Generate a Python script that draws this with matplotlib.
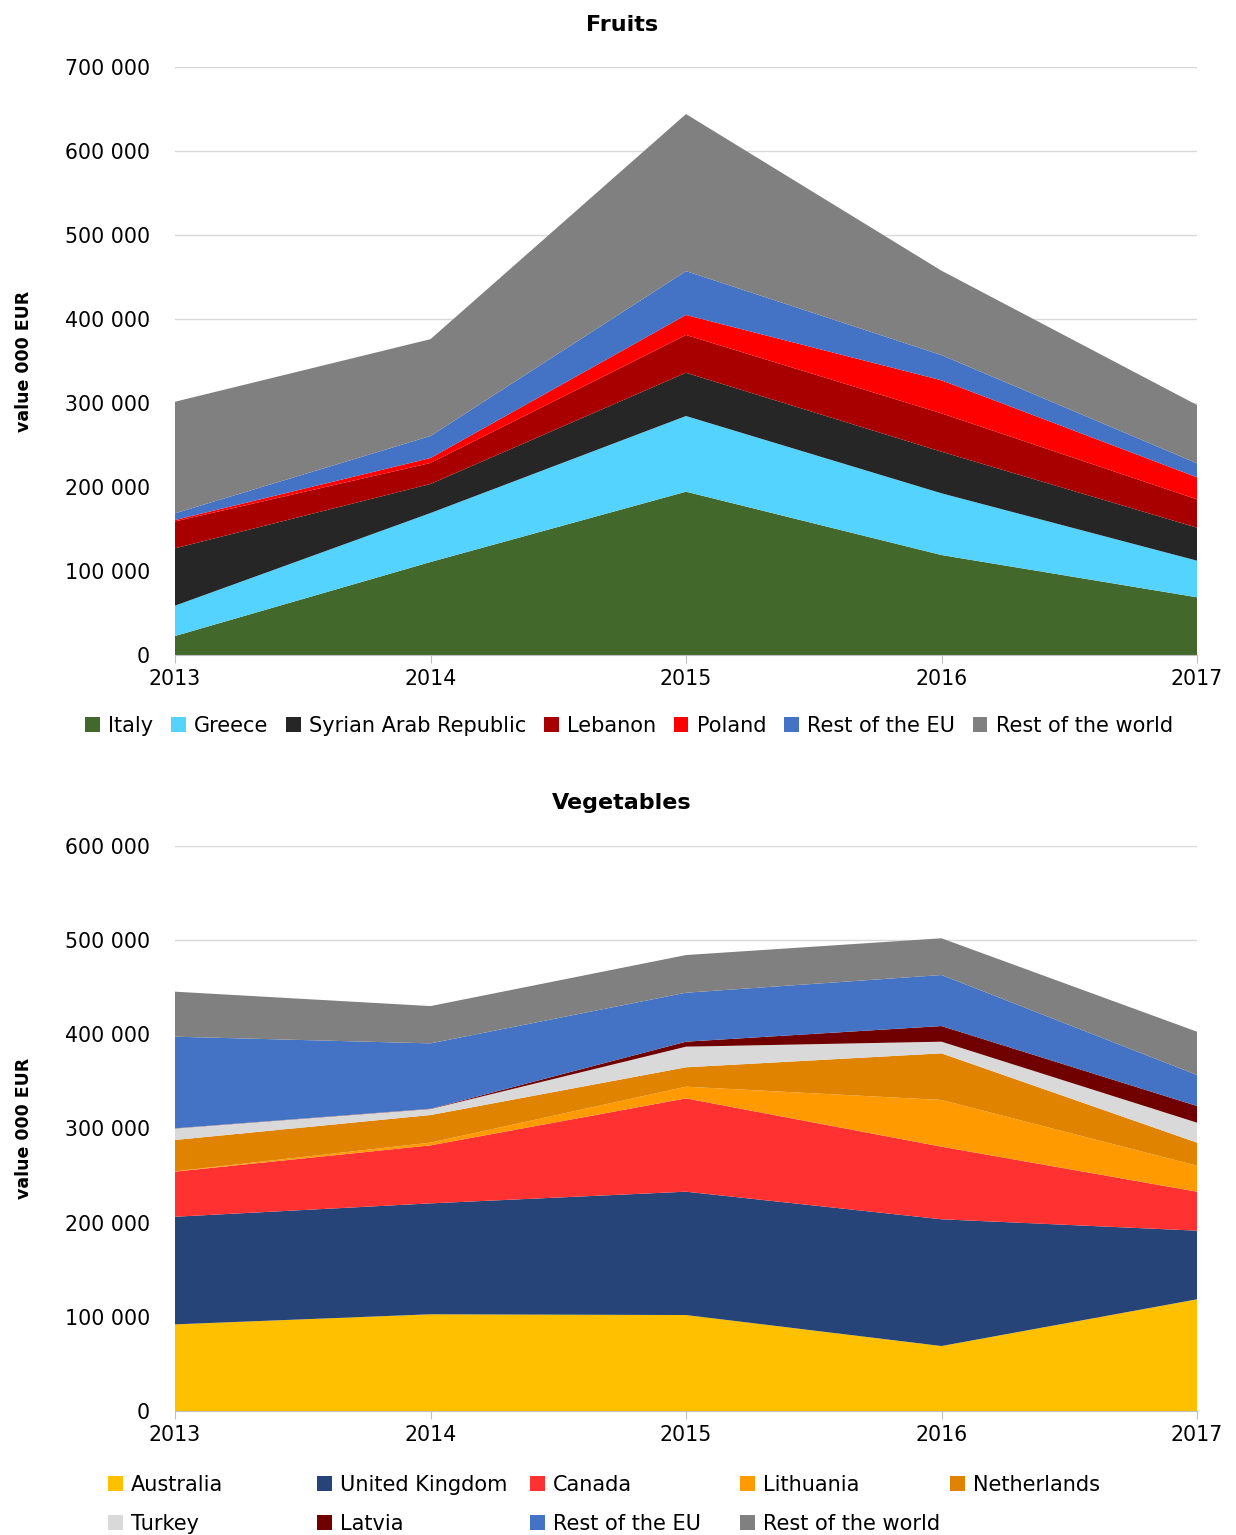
import matplotlib
matplotlib.use("Agg")
import matplotlib.pyplot as plt
from matplotlib.ticker import FuncFormatter

years = [2013, 2014, 2015, 2016, 2017]
year_labels = ["2013", "2014", "2015", "2016", "2017"]

# Fruits (value 000 EUR)
fruit_names = ["Italy", "Greece", "Syrian Arab Republic", "Lebanon", "Poland",
               "Rest of the EU", "Rest of the world"]
italy = [22600, 110700, 194400, 119000, 68700]
greece = [36100, 58300, 90100, 73500, 43600]
syria = [68300, 34600, 51500, 49500, 39300]
lebanon = [32000, 25000, 45000, 45700, 33700]
poland = [1700, 5900, 23800, 39300, 26200]
fruit_rest_eu = [8000, 26200, 52200, 30000, 16700]
fruit_rest_world = [132800, 115300, 187000, 100500, 69400]
fruit_colors = ["#43682B", "#55D3FF", "#262626", "#A80000", "#FF0000",
                "#4472C4", "#808080"]

# Vegetables (value 000 EUR)
veg_names = ["Australia", "United Kingdom", "Canada", "Lithuania", "Netherlands",
             "Turkey", "Latvia", "Rest of the EU", "Rest of the world"]
australia = [92000, 102700, 101900, 69000, 118600]
uk = [114300, 117800, 131000, 134600, 72900]
canada = [47900, 61600, 99100, 77100, 41400]
lithuania = [300, 2900, 12400, 49600, 27600]
netherlands = [33300, 29300, 20600, 49500, 24500]
turkey = [12200, 6400, 21900, 12400, 21200]
latvia = [200, 300, 5300, 16600, 17700]
veg_rest_eu = [97300, 69400, 52000, 54200, 32900]
veg_rest_world = [47800, 39600, 40000, 39000, 46000]
veg_colors = ["#FFC000", "#264478", "#FF3131", "#FF9B00", "#E08300",
              "#D9D9D9", "#700000", "#4472C4", "#808080"]

W, H = 1236, 1535
fig = plt.figure(figsize=(W / 100, H / 100), dpi=100)

fmt = FuncFormatter(lambda v, p: f"{int(v):,}".replace(",", " "))
FS = 14.8   # tick labels
LFS = 15    # legend


def style_axes(ax, ymax):
    ax.set_xlim(2013, 2017)
    ax.set_ylim(0, ymax)
    ax.set_yticks(range(0, ymax + 1, 100000))
    ax.yaxis.set_major_formatter(fmt)
    ax.set_xticks(years)
    ax.set_xticklabels(year_labels)
    ax.set_axisbelow(True)
    ax.grid(axis="y", color="#D9D9D9", linewidth=1)
    for s in ["top", "right", "left"]:
        ax.spines[s].set_visible(False)
    ax.spines["bottom"].set_color("#BFBFBF")
    ax.spines["bottom"].set_zorder(5)
    ax.tick_params(axis="y", length=0, pad=18, labelsize=FS)
    ax.tick_params(axis="x", length=6, color="#BFBFBF", pad=4, labelsize=FS)
    ax.set_ylabel("value 000 EUR", fontsize=12.5, fontweight="bold")
    ax.yaxis.set_label_coords(-0.139, 0.5)


# Fruits
ax1 = fig.add_axes([175 / W, 1 - 655 / H, 1022 / W, 588 / H])
polys1 = ax1.stackplot(years, italy, greece, syria, lebanon, poland,
                       fruit_rest_eu, fruit_rest_world,
                       colors=fruit_colors, labels=fruit_names)
style_axes(ax1, 700000)
fig.text(622 / W, 1 - 25 / H, "Fruits", ha="center", va="center",
         fontsize=16, fontweight="bold")
fig.legend(polys1, fruit_names, loc="center", bbox_to_anchor=(629 / W, 1 - 726 / H),
           ncol=7, frameon=False, fontsize=LFS, handlelength=0.7, handleheight=0.7,
           handletextpad=0.4, columnspacing=0.85, borderpad=0, borderaxespad=0)

# Vegetables
ax2 = fig.add_axes([175 / W, 1 - 1411 / H, 1022 / W, 565 / H])
polys2 = ax2.stackplot(years, australia, uk, canada, lithuania, netherlands,
                       turkey, latvia, veg_rest_eu, veg_rest_world,
                       colors=veg_colors, labels=veg_names)
style_axes(ax2, 600000)
fig.text(622 / W, 1 - 803 / H, "Vegetables", ha="center", va="center",
         fontsize=16, fontweight="bold")

col_x = [108, 317, 530, 740, 950]
for j, x in enumerate(col_x):
    idx = [j, j + 5] if j + 5 < len(veg_names) else [j]
    fig.legend([polys2[i] for i in idx], [veg_names[i] for i in idx],
               loc="upper left", bbox_to_anchor=(x / W, 1 - 1475 / H),
               frameon=False, fontsize=LFS, handlelength=0.7, handleheight=0.7,
               handletextpad=0.4, labelspacing=0.9, borderpad=0, borderaxespad=0)

fig.savefig("out.png", dpi=100)
